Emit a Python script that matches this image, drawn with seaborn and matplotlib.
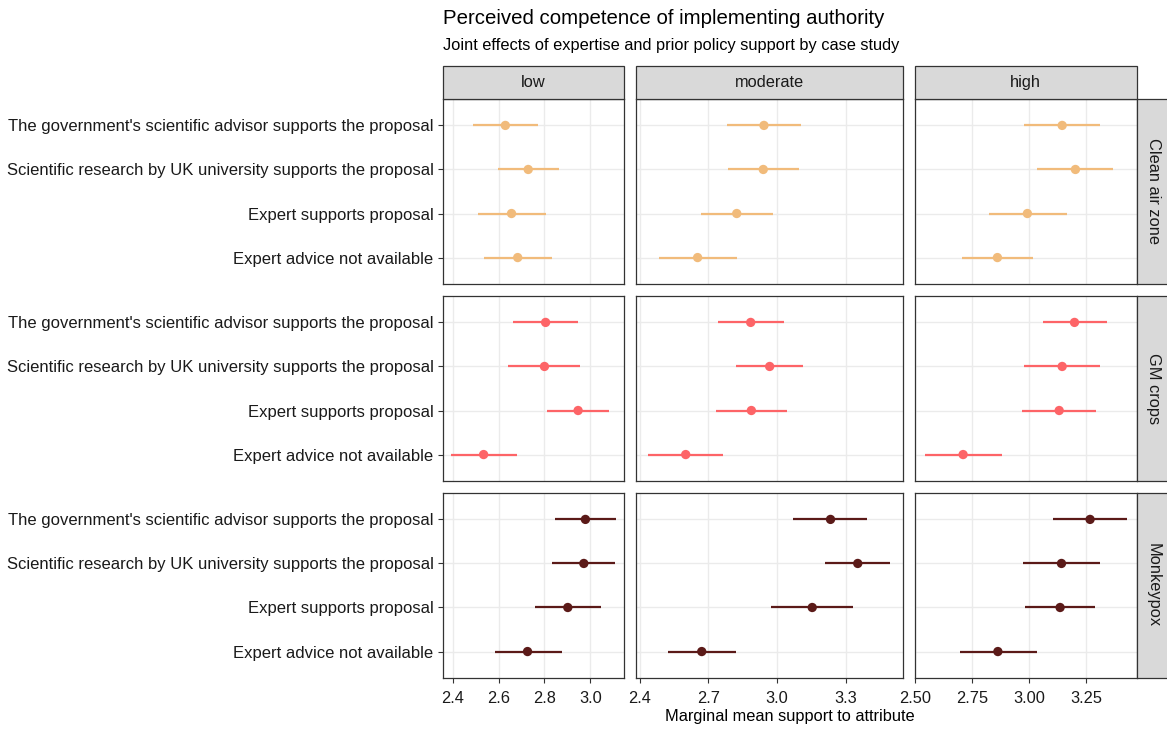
import numpy as np
import pandas as pd
import matplotlib
matplotlib.use("Agg")
import matplotlib.pyplot as plt
from matplotlib.patches import Rectangle
from matplotlib.ticker import MultipleLocator, FormatStrFormatter
import seaborn as sns

# ---- data ----
attributes = [
    "The government's scientific advisor supports the proposal",
    "Scientific research by UK university supports the proposal",
    "Expert supports proposal",
    "Expert advice not available",
]
expertise_levels = ["low", "moderate", "high"]
case_studies = ["Clean air zone", "GM crops", "Monkeypox"]

# estimate / lower / upper, one list per expertise level (same order as attributes)
clean_est = [[2.629, 2.729, 2.656, 2.683], [2.943, 2.940, 2.824, 2.653], [3.144, 3.202, 2.992, 2.861]]
clean_lo = [[2.486, 2.595, 2.508, 2.535], [2.783, 2.786, 2.666, 2.486], [2.979, 3.035, 2.824, 2.705]]
clean_hi = [[2.770, 2.865, 2.808, 2.831], [3.104, 3.097, 2.982, 2.824], [3.308, 3.367, 3.163, 3.018]]

gm_est = [[2.805, 2.800, 2.947, 2.534], [2.885, 2.968, 2.888, 2.601], [3.198, 3.144, 3.131, 2.711]]
gm_lo = [[2.663, 2.642, 2.811, 2.391], [2.741, 2.819, 2.733, 2.438], [3.060, 2.979, 2.970, 2.543]]
gm_hi = [[2.947, 2.956, 3.083, 2.680], [3.030, 3.115, 3.045, 2.764], [3.338, 3.309, 3.293, 2.880]]

mpox_est = [[2.979, 2.972, 2.902, 2.726], [3.234, 3.353, 3.154, 2.671], [3.266, 3.141, 3.135, 2.863]]
mpox_lo = [[2.848, 2.833, 2.759, 2.582], [3.072, 3.209, 2.973, 2.523], [3.102, 2.974, 2.983, 2.696]]
mpox_hi = [[3.113, 3.109, 3.049, 2.876], [3.393, 3.496, 3.334, 2.819], [3.427, 3.308, 3.286, 3.032]]

case_colors = ["#F1BB7B", "#FD6467", "#5B1A18"]
x_steps = [0.2, 0.3, 0.25]
x_formats = ["%.1f", "%.1f", "%.2f"]

# ---- build long table ----
rows = []
for case, est, lo, hi in zip(case_studies,
                             [clean_est, gm_est, mpox_est],
                             [clean_lo, gm_lo, mpox_lo],
                             [clean_hi, gm_hi, mpox_hi]):
    for k, level in enumerate(expertise_levels):
        for a, attr in enumerate(attributes):
            rows.append({"case": case, "expertise": level, "attribute": attr,
                         "estimate": est[k][a], "lower": lo[k][a], "upper": hi[k][a]})
df = pd.DataFrame(rows)
df["ypos"] = pd.Categorical(df["attribute"], categories=attributes).codes

# free x scale per column, ggplot-style 5% expansion
xlims = []
for level in expertise_levels:
    sub = df[df["expertise"] == level]
    lo_, hi_ = sub["lower"].min(), sub["upper"].max()
    pad = 0.05 * (hi_ - lo_)
    xlims.append((lo_ - pad, hi_ + pad))
widths = [b - a for a, b in xlims]

# ---- style ----
sns.set_theme(style="whitegrid")
plt.rcParams["font.family"] = ["Liberation Sans", "DejaVu Sans"]
plt.rcParams.update({
    "axes.edgecolor": "#333333",
    "axes.linewidth": 0.9,
    "grid.color": "#EBEBEB",
    "grid.linewidth": 1.0,
    "xtick.bottom": True,
    "ytick.left": True,
})

INK = "#1a1a1a"
TXT = 11.8

g = sns.FacetGrid(df, row="case", col="expertise", hue="case",
                  row_order=case_studies, col_order=expertise_levels,
                  hue_order=case_studies, palette=case_colors,
                  sharex="col", sharey=True, despine=False,
                  gridspec_kws={"width_ratios": widths})


def draw_panel(data, color, **kws):
    ax = plt.gca()
    ax.hlines(data["ypos"], data["lower"], data["upper"], color=color, lw=1.6, zorder=2)
    sns.scatterplot(data=data, x="estimate", y="ypos", color=color, s=45,
                    edgecolor="none", linewidth=0, ax=ax, zorder=3, legend=False)


g.map_dataframe(draw_panel)
g.set_titles("")
g.set_axis_labels("", "")

fig = g.figure
fig.set_size_inches(11.67, 7.29)
fig.subplots_adjust(left=0.3793, right=0.9743, top=0.8642, bottom=0.0700,
                    wspace=0.0537, hspace=0.0649)

for i, case in enumerate(case_studies):
    for j, level in enumerate(expertise_levels):
        ax = g.axes[i, j]
        ax.set_xlim(*xlims[j])
        ax.xaxis.set_major_locator(MultipleLocator(x_steps[j]))
        ax.xaxis.set_major_formatter(FormatStrFormatter(x_formats[j]))
        ax.set_ylim(len(attributes) - 0.4, -0.6)
        ax.set_yticks(range(len(attributes)))
        ax.set_yticklabels(attributes)
        ax.grid(True, which="major", color="#EBEBEB", lw=1.0)
        ax.set_axisbelow(True)
        ax.tick_params(axis="both", length=3.5, width=0.8, color="#333333",
                       labelsize=TXT, labelcolor=INK)
        ax.tick_params(axis="x", pad=6)
        ax.tick_params(axis="y", pad=3, labelsize=12)
        if j > 0:
            ax.tick_params(axis="y", labelleft=False, length=0)
        if i < len(case_studies) - 1:
            ax.tick_params(axis="x", labelbottom=False, length=0)

        # column strips
        if i == 0:
            h = 33 / 185
            ax.add_patch(Rectangle((0, 1), 1, h, transform=ax.transAxes,
                                   facecolor="#D9D9D9", edgecolor="#333333",
                                   lw=0.9, clip_on=False, zorder=5))
            ax.text(0.5, 1 + h / 2, level, transform=ax.transAxes,
                    ha="center", va="center", fontsize=TXT, color=INK, zorder=6)
        # row strips
        if j == len(expertise_levels) - 1:
            w = 33 / 223
            ax.add_patch(Rectangle((1, 0), w, 1, transform=ax.transAxes,
                                   facecolor="#D9D9D9", edgecolor="#333333",
                                   lw=0.9, clip_on=False, zorder=5))
            ax.text(1 + w / 2, 0.5, case, transform=ax.transAxes, rotation=270,
                    ha="center", va="center", fontsize=TXT, color=INK, zorder=6)

fig.text(0.3796, 0.975, "Perceived competence of implementing authority",
         ha="left", va="center", fontsize=14.7, color="black")
fig.text(0.3796, 0.938, "Joint effects of expertise and prior policy support by case study",
         ha="left", va="center", fontsize=TXT, color="black")
fig.text((0.3793 + 0.9743) / 2, 0.0165, "Marginal mean support to attribute",
         ha="center", va="center", fontsize=TXT, color="black")

fig.savefig("out.png", dpi=100)
